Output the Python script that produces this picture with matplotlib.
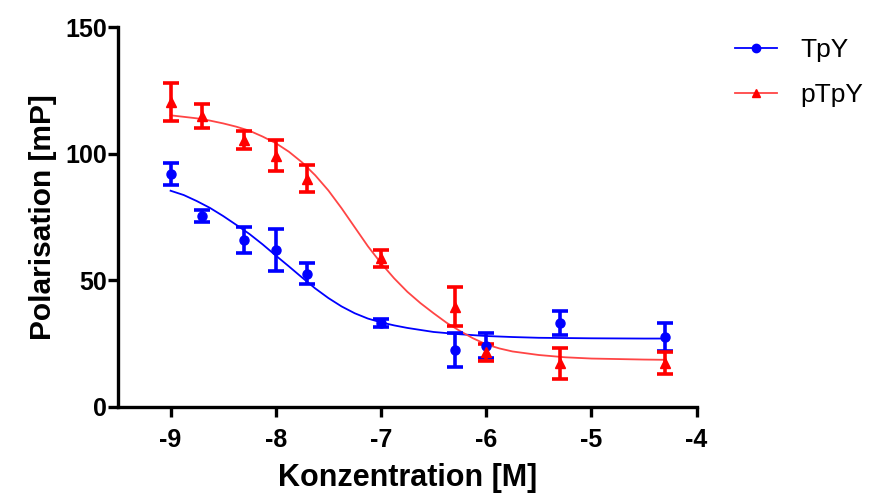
import numpy as np
import matplotlib
matplotlib.use("Agg")
import matplotlib.pyplot as plt

plt.rcParams['font.family'] = ['Liberation Sans', 'DejaVu Sans']

# measured points (log concentration, mean, error)
log_conc = [-9, -8.7, -8.3, -8, -7.7, -7, -6.3, -6, -5.3, -4.3]

tpy_mean = [92.0, 75.4, 66.0, 62.0, 52.6, 33.2, 22.5, 24.2, 33.3, 27.6]
tpy_err = [4.3, 2.5, 5.2, 8.2, 4.2, 1.6, 6.7, 5.0, 4.7, 5.7]

ptpy_mean = [120.5, 115.0, 105.4, 99.3, 90.2, 58.7, 39.6, 21.5, 17.2, 17.2]
ptpy_err = [7.6, 4.8, 3.7, 6.1, 5.4, 3.3, 7.6, 3.5, 6.2, 4.3]

# fitted curves
tpy_curve_x = [-9, -8.875, -8.75, -8.625, -8.5, -8.375, -8.25, -8.125, -8,
               -7.875, -7.75, -7.625, -7.5, -7.375, -7.25, -7.125, -7,
               -6.875, -6.75, -6.5, -6.25, -6, -5.75, -5.5, -5.25, -5,
               -4.5, -4.3]
tpy_curve = [85.4, 83.7, 81.3, 78.6, 75.4, 71.9, 68.3, 64.2, 59.8,
             55.5, 51.1, 46.8, 43.0, 39.7, 37.0, 34.9, 33.4,
             32.2, 31.2, 29.6, 28.7, 28.0, 27.6, 27.3, 27.2, 27.1,
             27.0, 27.0]

ptpy_curve_x = [-9, -8.75, -8.625, -8.5, -8.375, -8.25, -8.125, -8, -7.875,
                -7.75, -7.625, -7.5, -7.375, -7.25, -7.125, -7, -6.875,
                -6.75, -6.625, -6.5, -6.375, -6.25, -6.125, -6, -5.875,
                -5.75, -5.5, -5.25, -5, -4.5, -4.3]
ptpy_curve = [115.2, 114.0, 113.1, 112.0, 110.7, 109.1, 106.8, 104.2, 100.8,
              96.6, 91.5, 85.5, 78.5, 71.0, 63.5, 56.8, 50.8,
              45.5, 41.0, 37.0, 33.2, 30.0, 27.1, 24.7, 23.1,
              21.9, 20.5, 19.6, 19.1, 18.7, 18.6]

blue = '#0000ff'
red = '#ff0000'
red_line = '#ff4545'

fig = plt.figure(figsize=(8.74, 4.95), dpi=100)
ax = fig.add_axes([0.135, 0.178, 0.662, 0.767])

ax.plot(tpy_curve_x, tpy_curve, color=blue, lw=1.3, zorder=2)
ax.plot(ptpy_curve_x, ptpy_curve, color=red_line, lw=1.3, zorder=2)

ax.errorbar(log_conc, tpy_mean, yerr=tpy_err, fmt='o', color=blue, ms=6.5,
            elinewidth=2.6, capsize=5.5, capthick=2.6, zorder=3)
ax.errorbar(log_conc, ptpy_mean, yerr=ptpy_err, fmt='^', color=red, ms=6.5,
            elinewidth=2.6, capsize=5.5, capthick=2.6, zorder=3)

ax.set_xlim(-9.5, -4)
ax.set_ylim(0, 150)
ax.set_xticks([-9, -8, -7, -6, -5, -4])
ax.set_yticks([0, 50, 100, 150])
ax.set_xticklabels(['-9', '-8', '-7', '-6', '-5', '-4'])

for s in ['top', 'right']:
    ax.spines[s].set_visible(False)
for s in ['left', 'bottom']:
    ax.spines[s].set_linewidth(2.4)
ax.tick_params(width=2.4, length=7, labelsize=18)
ax.tick_params(axis='x', pad=8)
ax.tick_params(axis='y', pad=1)
for lab in ax.get_xticklabels() + ax.get_yticklabels():
    lab.set_fontweight('bold')

ax.set_xlabel('Konzentration [M]', fontsize=22, fontweight='bold', labelpad=8)
ax.set_ylabel('Polarisation [mP]', fontsize=21.5, fontweight='bold', labelpad=6)

h1, = ax.plot([], [], color=blue, lw=1.3, marker='o', ms=6)
h2, = ax.plot([], [], color=red_line, lw=1.3, marker='^', ms=6, mfc=red, mec=red)
fig.legend([h1, h2], ['TpY', 'pTpY'], loc='upper left',
           bbox_to_anchor=(0.8135, 0.971), frameon=False, fontsize=19,
           handlelength=1.6, handletextpad=0.87, labelspacing=0.8)

fig.savefig('out.png', dpi=100)
